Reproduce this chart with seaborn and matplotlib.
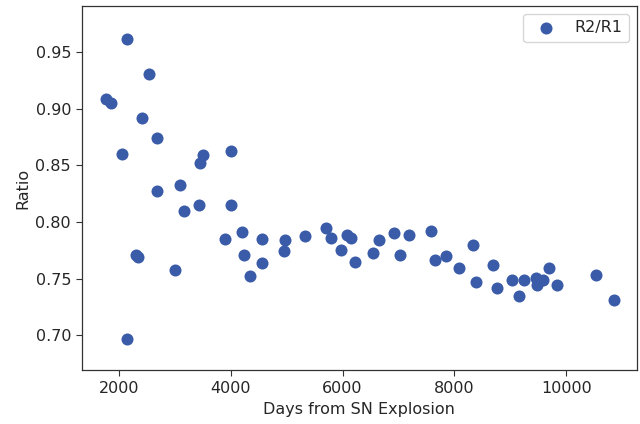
import matplotlib
matplotlib.use("Agg")
import matplotlib.pyplot as plt
import seaborn as sns
import pandas as pd

days = [1777, 1861, 2146, 2057, 2146, 2312, 2336, 2414, 2532, 2682,
        2682, 3009, 3098, 3170, 3426, 3455, 3497, 4004, 4004, 3902,
        4200, 4229, 4348, 4557, 4557, 4955, 4973, 5330, 5705, 5789,
        5968, 6075, 6146, 6223, 6550, 6652, 6920, 7027, 7188, 7575,
        7652, 7848, 8080, 8325, 8384, 8682, 8764, 9032, 9152, 9241,
        9450, 9479, 9575, 9693, 9836, 10527, 10854]
ratio = [0.9086, 0.9056, 0.9618, 0.8597, 0.6962, 0.7710, 0.7690, 0.8923, 0.9307, 0.8746,
         0.8272, 0.7577, 0.8331, 0.8094, 0.8154, 0.8524, 0.8589, 0.8627, 0.8154, 0.7852,
         0.7911, 0.7704, 0.7526, 0.7852, 0.7636, 0.7740, 0.7843, 0.7873, 0.7947, 0.7858,
         0.7754, 0.7887, 0.7858, 0.7650, 0.7725, 0.7843, 0.7902, 0.7704, 0.7887, 0.7917,
         0.7666, 0.7695, 0.7592, 0.7799, 0.7473, 0.7621, 0.7414, 0.7488, 0.7349, 0.7488,
         0.7503, 0.7444, 0.7488, 0.7592, 0.7444, 0.7532, 0.7311]
series_label = "R2/R1"
x_ticks = [2000, 4000, 6000, 8000, 10000]
y_ticks = [0.70, 0.75, 0.80, 0.85, 0.90, 0.95]

sns.set_style("ticks")
plt.rcParams['font.family'] = ['DejaVu Sans']

df = pd.DataFrame({"days": days, "ratio": ratio})

fig = plt.figure(figsize=(6.4, 4.24), dpi=100)
ax = fig.add_axes([0.128, 0.127, 0.867, 0.859])
sns.scatterplot(data=df, x="days", y="ratio", ax=ax, color="#3A5BA8",
                s=75, linewidth=0, label=series_label)
ax.set_xlim(1340, 11260)
ax.set_ylim(0.669, 0.991)
ax.set_xticks(x_ticks)
ax.set_yticks(y_ticks)
ax.set_yticklabels([f"{v:.2f}" for v in y_ticks])
ax.set_xlabel("Days from SN Explosion", fontsize=11.5)
ax.set_ylabel("Ratio", fontsize=11.5)
ax.tick_params(labelsize=11.5, direction="out", length=4.3, color="#333333")
for sp in ax.spines.values():
    sp.set_color("#333333")
    sp.set_linewidth(0.9)
ax.legend(loc="upper right", fontsize=11.5, frameon=True, borderaxespad=0.5)
fig.savefig("out.png", dpi=100)
